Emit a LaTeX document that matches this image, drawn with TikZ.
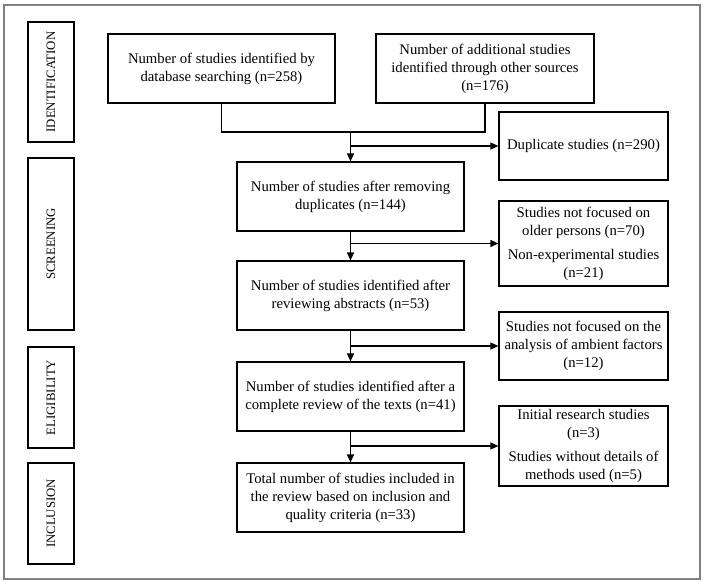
\documentclass[tikz,border=0pt]{standalone}
\usepackage{fontspec}
\setmainfont{Liberation Serif}
\usetikzlibrary{arrows.meta,calc}
\begin{document}
\begin{tikzpicture}[x=1pt,y=-1pt,
  box/.style={draw=black,line width=1.2pt,inner sep=0pt,align=center,
    font=\fontsize{14.7}{18}\selectfont},
  phase/.style={draw=black,line width=1.2pt,inner sep=0pt,minimum width=46pt,
    font=\fontsize{12.8}{14}\selectfont},
  conn/.style={line width=1.2pt},
  arr/.style={line width=1.2pt,-{Triangle[length=8pt,width=7pt]}}]
\useasboundingbox (0,0) rectangle (705,584);
\draw[draw=gray,line width=1.5pt] (4,5) rectangle (700,579);
% phases
\node[phase,minimum height=120pt] (pid) at (51,82) {\rotatebox{90}{IDENTIFICATION}};
\node[phase,minimum height=172pt] (pscr) at (51,244) {\rotatebox{90}{SCREENING}};
\node[phase,minimum height=101pt] (peli) at (51,397.5) {\rotatebox{90}{ELIGIBILITY}};
\node[phase,minimum height=101pt] (pinc) at (51,513.5) {\rotatebox{90}{INCLUSION}};
% main boxes
\node[box,minimum width=227pt,minimum height=69pt] (A) at (221.5,68.5) {Number of studies identified by\\database searching (n=258)};
\node[box,minimum width=218pt,minimum height=69pt] (B) at (485,68.5) {Number of additional studies\\identified through other sources\\(n=176)};
\node[box,minimum width=169pt,minimum height=68pt] (D) at (583.5,146) {Duplicate studies (n=290)};
\node[box,minimum width=227pt,minimum height=69pt] (C) at (350.5,196.5) {Number of studies after removing\\duplicates (n=144)};
\node[box,minimum width=169pt,minimum height=85pt] (F) at (583.5,243.5) {Studies not focused on\\older persons (n=70)\\[6pt]Non-experimental studies\\(n=21)};
\node[box,minimum width=227pt,minimum height=69pt] (E) at (350.5,295.5) {Number of studies identified after\\reviewing abstracts (n=53)};
\node[box,minimum width=169pt,minimum height=68pt] (G) at (583.5,346) {Studies not focused on the\\analysis of ambient factors\\(n=12)};
\node[box,minimum width=227pt,minimum height=69pt] (H) at (350.5,396.5) {Number of studies identified after a\\complete review of the texts (n=41)};
\node[box,minimum width=169pt,minimum height=80pt] (J) at (583.5,446) {Initial research studies\\(n=3)\\[6pt]Studies without details of\\methods used (n=5)};
\node[box,minimum width=227pt,minimum height=69pt] (I) at (350.5,497.5) {Total number of studies included in\\the review based on inclusion and\\quality criteria (n=33)};
% connectors
\coordinate (m) at (350.5,132);
\draw[conn] (A.south) |- (m);
\draw[conn] (B.south) |- (m);
\draw[arr] (m) -- (C.north);
\draw[arr] (C.north |- D.west) -- (D.west);
\draw[arr] (C.south) -- (E.north);
\draw[arr] (C.south |- F.west) -- (F.west);
\draw[arr] (E.south) -- (H.north);
\draw[arr] (E.south |- G.west) -- (G.west);
\draw[arr] (H.south) -- (I.north);
\draw[arr] (H.south |- J.west) -- (J.west);
\end{tikzpicture}
\end{document}
